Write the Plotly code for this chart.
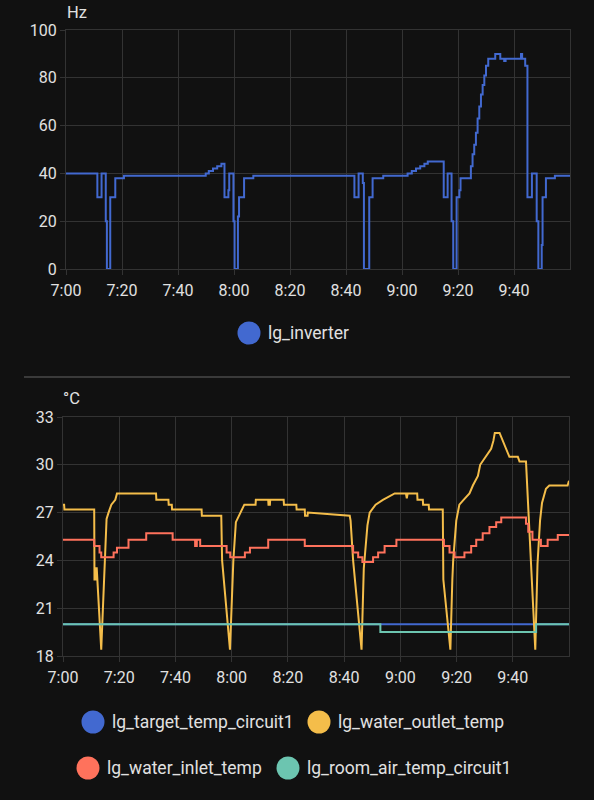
import pandas as pd
import plotly.graph_objects as go

# ---------------- data (minutes after 07:00) ----------------
inverter_t = [0, 11.2, 12.7, 14.2, 14.6, 15.8, 17.6, 20.7, 49.9, 51, 52.5, 54, 55.5, 56.6, 58, 58.3,
              59.8, 60.2, 61.4, 61.8, 63.6, 66.9, 103, 104.5, 106, 106.4, 108.3, 109.5, 113.3, 122,
              123.5, 125, 126.5, 128, 129.2, 134.9, 136.3, 137.7, 138.3, 139.5, 140.5, 140.9, 144.6,
              145.2, 145.8, 146.4, 147.0, 147.6, 148.2, 148.8, 149.4, 150.0, 150.8, 153.3, 155.1,
              156.5, 157.0, 162.5, 162.9, 164.0, 164.8, 166.4, 168.1, 168.7, 169.9, 170.2, 171.4,
              174.6, 180]
inverter_hz = [40, 30, 40, 20, 0, 30, 38, 39, 40, 41, 42, 43, 44, 30, 33, 40,
               20, 0, 22, 30, 38, 39, 30, 40, 36, 0, 30, 38, 39, 40,
               41, 42, 43, 44, 45, 30, 40, 20, 0, 30, 33, 38, 43,
               48, 52, 57, 63, 68, 73, 77, 81, 85, 88, 90, 88,
               87, 88, 90, 88, 85, 30, 40, 20, 0, 10, 30, 38,
               39, 39]

target_t = [0, 180]
target_c = [20.0, 20.0]

outlet_t = [0, 0.4, 0.5, 11.1, 11.2, 11.6, 11.7, 12.0, 13.6, 14.8, 15.5, 16.2, 17.2, 18.6, 19.2,
            33.1, 33.2, 37.5, 37.6, 38.7, 38.8, 49.3, 49.4, 56.3, 56.6, 59.4, 60.6, 61.5, 62.5,
            63.5, 64.5, 68.5, 68.6, 73.0, 73.1, 73.6, 73.7, 78.5, 78.6, 83.0, 83.1, 86.0, 86.1,
            87.0, 87.1, 102.0, 102.3, 103.2, 106.2, 107.0, 108.3, 109.1, 111.2, 113.8, 118.0,
            122.0, 122.3, 122.6, 126.0, 126.1, 128.0, 128.1, 130.1, 130.2, 135.1, 135.3, 137.8,
            138.5, 138.8, 139.9, 141.0, 142.5, 144.6, 145.8, 147.6, 148.4, 150.5, 152.3, 153.1,
            153.6, 155.3, 156.4, 157.6, 158.8, 161.8, 162.4, 164.7, 168.0, 168.8, 169.7, 170.4,
            171.8, 173.0, 179.5, 180]
outlet_c = [27.5, 27.5, 27.2, 27.2, 22.8, 22.8, 23.5, 23.5, 18.4, 24.0, 26.6, 27.0, 27.5, 27.8, 28.2,
            28.2, 27.8, 27.8, 27.5, 27.5, 27.2, 27.2, 26.8, 26.8, 24.0, 18.4, 24.0, 26.4, 26.8,
            27.2, 27.5, 27.5, 27.8, 27.8, 27.5, 27.5, 27.8, 27.8, 27.5, 27.5, 27.2, 27.2, 26.8,
            26.8, 27.0, 26.8, 26.5, 24.0, 18.4, 23.5, 26.2, 27.0, 27.5, 27.8, 28.2,
            28.2, 27.9, 28.2, 28.2, 27.8, 27.8, 27.5, 27.5, 27.2, 27.2, 22.8, 18.4,
            22.8, 24.0, 26.5, 27.5, 27.8, 28.2, 28.7, 29.3, 30.0, 30.5, 31.0, 31.5,
            32.0, 32.0, 31.5, 31.0, 30.5, 30.5, 30.2, 30.2, 18.4, 23.8, 26.5, 27.6,
            28.5, 28.7, 28.7, 29.0]

inlet_t = [0, 11.1, 13.0, 13.6, 18.0, 19.2, 23.3, 29.6, 39.0, 47.0, 47.6, 48.8, 58.2, 59.5, 64.7,
           66.5, 73.0, 86.0, 103.2, 105.0, 106.5, 110.3, 112.1, 114.4, 118.6, 135.5, 137.5, 139.3,
           142.8, 145.2, 147.0, 149.3, 151.7, 154.1, 155.9, 164.7, 165.5, 167.0, 170.0, 172.4,
           176.0, 180]
inlet_c = [25.3, 24.9, 24.5, 24.2, 24.5, 24.8, 25.3, 25.7, 25.3, 24.9, 25.3, 24.9, 24.5, 24.2, 24.5,
           24.8, 25.3, 24.9, 24.5, 24.2, 23.9, 24.2, 24.5, 24.9, 25.3, 24.9, 24.5, 24.2,
           24.5, 24.9, 25.3, 25.7, 26.1, 26.4, 26.7, 26.3, 25.8, 25.3, 24.9, 25.3,
           25.6, 25.6]

room_t = [0, 112.9, 168.3, 180]
room_c = [20.0, 19.5, 20.0, 20.0]

x_ticks_min = [0, 20, 40, 60, 80, 100, 120, 140, 160]
hz_ticks = [0, 20, 40, 60, 80, 100]
c_ticks = [18, 21, 24, 27, 30, 33]

# ---------------- styling ----------------
W, H = 594, 800
BG = "#111111"
GRID = "#333333"
TXT = "#e1e1e1"
FONT = "Roboto"
C_BLUE = "#4269d0"
C_YEL = "#f4bd4a"
C_RED = "#ff725c"
C_TEAL = "#6cc5b0"

base = pd.Timestamp("2024-01-01 07:00")


def tt(mins):
    return [base + pd.Timedelta(minutes=m) for m in mins]


fig = go.Figure()

fig.add_trace(go.Scatter(x=tt(inverter_t), y=inverter_hz, mode="lines", line_shape="hv",
                         line=dict(color=C_BLUE, width=2), name="lg_inverter",
                         xaxis="x", yaxis="y", showlegend=False))
fig.add_trace(go.Scatter(x=tt(target_t), y=target_c, mode="lines", line_shape="hv",
                         line=dict(color=C_BLUE, width=2), name="lg_target_temp_circuit1",
                         xaxis="x2", yaxis="y2", showlegend=False))
fig.add_trace(go.Scatter(x=tt(outlet_t), y=outlet_c, mode="lines",
                         line=dict(color=C_YEL, width=2), name="lg_water_outlet_temp",
                         xaxis="x2", yaxis="y2", showlegend=False))
fig.add_trace(go.Scatter(x=tt(inlet_t), y=inlet_c, mode="lines", line_shape="hv",
                         line=dict(color=C_RED, width=2), name="lg_water_inlet_temp",
                         xaxis="x2", yaxis="y2", showlegend=False))
fig.add_trace(go.Scatter(x=tt(room_t), y=room_c, mode="lines", line_shape="hv",
                         line=dict(color=C_TEAL, width=2), name="lg_room_air_temp_circuit1",
                         xaxis="x2", yaxis="y2", showlegend=False))

x0, x1 = base, base + pd.Timedelta(minutes=180)
xcommon = dict(range=[x0, x1], tickvals=tt(x_ticks_min), tickformat="%-H:%M",
               showgrid=True, gridcolor=GRID, gridwidth=1, zeroline=False,
               showline=True, linecolor=GRID, mirror=True, automargin=False,
               ticks="outside", ticklen=5, tickcolor=GRID,
               tickfont=dict(family=FONT, size=16, color=TXT), ticklabelstandoff=2)
ycommon = dict(showgrid=True, gridcolor=GRID, gridwidth=1, zeroline=False,
               showline=True, linecolor=GRID, mirror=True, automargin=False,
               ticks="outside", ticklen=5, tickcolor=GRID,
               tickfont=dict(family=FONT, size=16, color=TXT))

fig.update_layout(
    template="none",
    width=W, height=H,
    paper_bgcolor=BG, plot_bgcolor=BG,
    margin=dict(l=0, r=0, t=0, b=0, pad=0),
    font=dict(family=FONT, color=TXT),
    xaxis=dict(domain=[66 / W, 570 / W], anchor="y", **xcommon),
    yaxis=dict(domain=[1 - 269 / H, 1 - 30 / H], anchor="x", range=[0, 100],
               tickvals=hz_ticks, **ycommon),
    xaxis2=dict(domain=[63 / W, 569 / W], anchor="y2", **xcommon),
    yaxis2=dict(domain=[1 - 656 / H, 1 - 417 / H], anchor="x2", range=[18, 33],
                tickvals=c_ticks, **ycommon),
    showlegend=False,
)

# unit labels
fig.add_annotation(x=65 / W, y=1 - 13 / H, xref="paper", yref="paper", text="Hz",
                   showarrow=False, xanchor="left", yanchor="middle",
                   font=dict(family=FONT, size=16.5, color=TXT))
fig.add_annotation(x=61 / W, y=1 - 398 / H, xref="paper", yref="paper", text="°C",
                   showarrow=False, xanchor="left", yanchor="middle",
                   font=dict(family=FONT, size=16.5, color=TXT))

# separator
fig.add_shape(type="line", xref="paper", yref="paper", x0=24 / W, x1=570 / W,
              y0=1 - 377 / H, y1=1 - 377 / H, line=dict(color="#3a3a3a", width=2))

# legends (circle + label)
legend_items = [
    ("lg_inverter", C_BLUE, 249, 333),
    ("lg_target_temp_circuit1", C_BLUE, 93, 722),
    ("lg_water_outlet_temp", C_YEL, 319, 722),
    ("lg_water_inlet_temp", C_RED, 88, 768),
    ("lg_room_air_temp_circuit1", C_TEAL, 288, 768),
]
R = 11.5
for label, col, cx, cy in legend_items:
    fig.add_shape(type="circle", xref="paper", yref="paper",
                  x0=(cx - R) / W, x1=(cx + R) / W, y0=1 - (cy + R) / H, y1=1 - (cy - R) / H,
                  fillcolor=col, line=dict(width=0))
    fig.add_annotation(x=(cx + R + 5) / W, y=1 - cy / H, xref="paper", yref="paper",
                       text=label, showarrow=False, xanchor="left", yanchor="middle",
                       font=dict(family=FONT, size=17.5, color=TXT))

fig.write_html(
    "out.html",
    config={"displayModeBar": False},
    post_script="document.body.style.margin='0';document.body.style.background='#111111';"
                "document.documentElement.style.background='#111111';"
                "document.body.style.overflow='hidden';",
)
